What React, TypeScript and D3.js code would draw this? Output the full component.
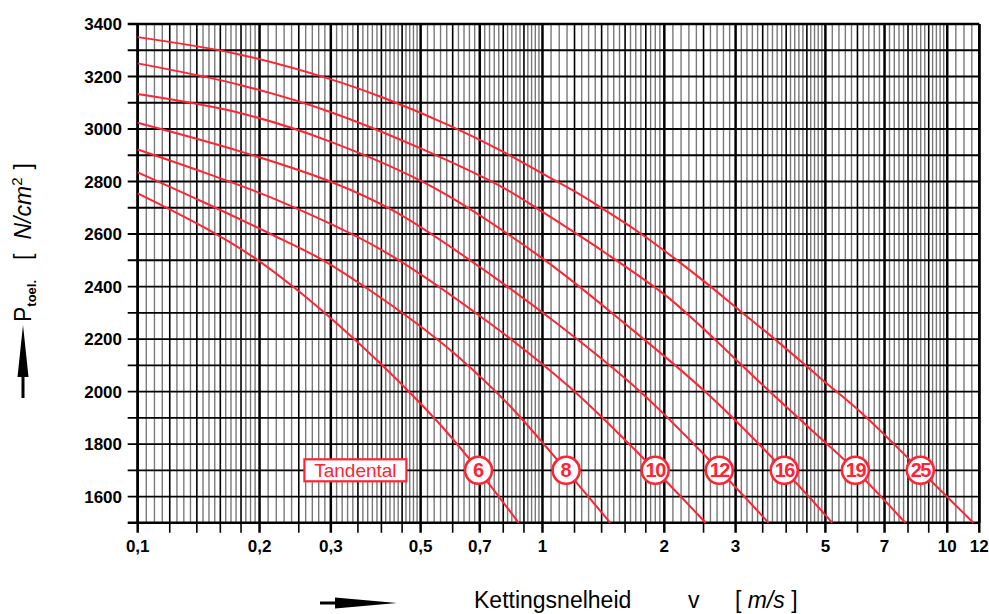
import React from "react";
import * as d3 from "d3";

// ---- data (v in m/s, P in N/cm²) ----
const teeth = ["6", "8", "10", "12", "16", "19", "25"];
const curve6 = [[0.1, 2755], [0.1456, 2626], [0.1935, 2511], [0.243, 2397], [0.311, 2258], [0.402, 2100], [0.49, 1968], [0.568, 1862], [0.695, 1700], [0.873, 1500]];
const curve8 = [[0.1, 2835], [0.1456, 2721], [0.213, 2600], [0.288, 2499], [0.376, 2384], [0.49, 2258], [0.625, 2127], [0.83, 1946], [1.144, 1700], [1.47, 1500]];
const curve10 = [[0.1, 2922], [0.148, 2831], [0.2206, 2730], [0.402, 2538], [0.744, 2258], [1.17, 2015], [1.899, 1700], [2.53, 1500]];
const curve12 = [[0.1, 3024], [0.18, 2914], [0.299, 2800], [0.427, 2690], [0.61, 2538], [1.088, 2258], [1.739, 2001], [2.734, 1700], [3.62, 1500]];
const curve16 = [[0.1, 3133], [0.18, 3060], [0.299, 2952], [0.54, 2776], [0.99, 2512], [1.6, 2258], [2.53, 1998], [3.957, 1700], [5.2, 1500]];
const curve19 = [[0.1, 3250], [0.18, 3167], [0.299, 3065], [0.5, 2926], [0.803, 2775], [1.0, 2684], [1.443, 2524], [2.0, 2370], [2.408, 2262], [3.5, 2025], [4.5, 1870], [5.93, 1700], [7.88, 1500]];
const curve25 = [[0.1, 3350], [0.176, 3286], [0.299, 3190], [0.406, 3118], [0.592, 3012], [0.803, 2912], [1.0, 2830], [1.193, 2765], [1.443, 2686], [1.744, 2603], [2.108, 2510], [2.549, 2411], [3.08, 2307], [3.8, 2192], [4.87, 2050], [6.23, 1910], [8.58, 1700], [11.6, 1500]];
const curves = [curve6, curve8, curve10, curve12, curve16, curve19, curve25];
const labelV = [0.695, 1.144, 1.899, 2.734, 3.957, 5.93, 8.58];
const labelP = 1700;

const xTickValues = [0.1, 0.2, 0.3, 0.5, 0.7, 1, 2, 3, 5, 7, 10, 12];
const xTickLabels = ["0,1", "0,2", "0,3", "0,5", "0,7", "1", "2", "3", "5", "7", "10", "12"];
// [from, to, minor step, tick step]
const gridBands = [[0.1, 0.2, 0.005, 0.02], [0.2, 0.5, 0.01, 0.05], [0.5, 1, 0.02, 0.1], [1, 2, 0.05, 0.2], [2, 5, 0.1, 0.5], [5, 10, 0.2, 1], [10, 12, 0.5, 2]];
const yLabelValues = [1600, 1800, 2000, 2200, 2400, 2600, 2800, 3000, 3200, 3400];

const W = 989, H = 614;
const RED = "#ff2433";
const FONT = "'Liberation Sans', Arial, Helvetica, sans-serif";

export default function App() {
  const x = d3.scaleLog().domain([0.1, 12]).range([137.7, 979.3]);
  const y = d3.scaleLinear().domain([1500, 3400]).range([522.8, 24]);
  const [x0, x1] = x.range();
  const [yb, yt] = y.range();

  const minor: number[] = [];
  const ticks: number[] = [];
  gridBands.forEach(([a, b, s, t]) => {
    const n = Math.round((b - a) / s);
    for (let i = 0; i < n; i++) {
      const v = +(a + i * s).toFixed(4);
      const r = v / t;
      if (Math.abs(r - Math.round(r)) < 1e-6) ticks.push(v);
      else minor.push(v);
    }
  });
  ticks.push(12);
  const thickSet = new Set(xTickValues.map((v) => v.toFixed(3)));

  const hLines = d3.range(1500, 3401, 100);

  const line = d3
    .line<number[]>()
    .x((d) => x(d[0]))
    .y((d) => y(d[1]))
    .curve(d3.curveCatmullRom.alpha(0.5));

  return (
    <svg width={W} height={H} style={{ position: "absolute", left: 0, top: 0, background: "#fff" }} fontFamily={FONT}>
      <rect width={W} height={H} fill="#fff" />
      {/* minor vertical grid */}
      {minor.map((v, i) => (
        <line key={"m" + i} x1={x(v)} x2={x(v)} y1={yt} y2={yb} stroke="#7a7a7a" strokeWidth={1.4} />
      ))}
      {ticks.map((v, i) => (
        <line key={"t" + i} x1={x(v)} x2={x(v)} y1={yt} y2={yb + 10} stroke="#000" strokeWidth={thickSet.has(v.toFixed(3)) ? 2.5 : 1.6} />
      ))}
      {/* horizontal grid */}
      {hLines.map((p) => (
        <line key={"h" + p} x1={x0 - 10} x2={x1} y1={y(p)} y2={y(p)} stroke="#000" strokeWidth={p === 3400 || p === 1500 ? 2.5 : 1.8} />
      ))}
      <line x1={x0} x2={x0} y1={yt} y2={yb} stroke="#000" strokeWidth={2.6} />
      <line x1={x1} x2={x1} y1={yt} y2={yb} stroke="#000" strokeWidth={2.6} />

      {/* curves */}
      {curves.map((c, i) => (
        <path key={"c" + i} d={line(c) || ""} fill="none" stroke={RED} strokeWidth={2} />
      ))}

      {/* curve labels */}
      {labelV.map((v, i) => (
        <g key={"l" + i} transform={`translate(${x(v)},${y(labelP)})`}>
          <circle r={13.5} fill="#fff" stroke={RED} strokeWidth={2.6} />
          <text y={7} textAnchor="middle" fontSize={20} fontWeight="bold" fill={RED} letterSpacing={teeth[i].length > 1 ? -1.5 : 0}>
            {teeth[i]}
          </text>
        </g>
      ))}
      <g transform={`translate(${x(0.345)},${y(labelP)})`}>
        <rect x={-51} y={-11} width={102} height={22} fill="#fff" stroke={RED} strokeWidth={2.2} />
        <text y={7} textAnchor="middle" fontSize={19} fill={RED}>Tandental</text>
      </g>

      {/* y labels */}
      {yLabelValues.map((p) => (
        <text key={"yl" + p} x={122} y={y(p) + 6} textAnchor="end" fontSize={17} fontWeight="bold">
          {p}
        </text>
      ))}
      {/* x labels */}
      {xTickValues.map((v, i) => (
        <text key={"xl" + i} x={x(v)} y={552} textAnchor="middle" fontSize={17} fontWeight="bold">
          {xTickLabels[i]}
        </text>
      ))}

      {/* x title */}
      <rect x={320} y={601.5} width={20} height={3} fill="#000" />
      <path d="M335,597.5 L397,603 L335,608.5 Z" fill="#000" />
      <text x={474} y={608} fontSize={23}>Kettingsnelheid</text>
      <text x={688} y={608} fontSize={23}>v</text>
      <text x={735} y={608} fontSize={23}>
        [ <tspan fontStyle="italic">m/s</tspan> ]
      </text>

      {/* y title */}
      <rect x={21.5} y={372} width={3} height={26} fill="#000" />
      <path d="M17.5,377 L28.5,377 L23,325 Z" fill="#000" />
      <text transform="translate(31,322) rotate(-90)" fontSize={23}>
        <tspan>P</tspan>
        <tspan fontSize={13} fontWeight="bold" dy={5}>toel.</tspan>
        <tspan dy={-5} dx={20}>[</tspan>
        <tspan dx={14} fontStyle="italic">N/cm</tspan>
        <tspan fontSize={15} dy={-9}>2</tspan>
        <tspan dy={9} dx={8}>]</tspan>
      </text>
    </svg>
  );
}
